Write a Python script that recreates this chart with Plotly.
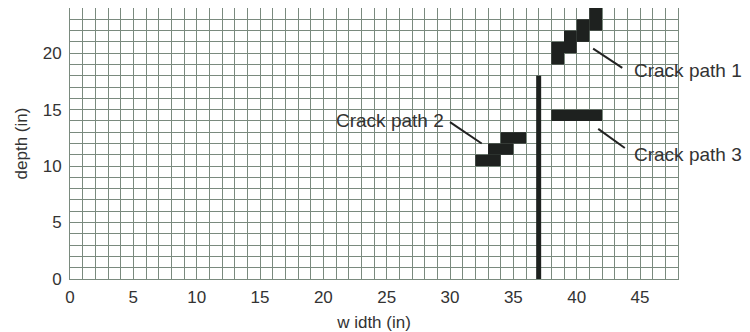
import plotly.graph_objects as go

# ---- data ----
x_ticks = [0, 5, 10, 15, 20, 25, 30, 35, 40, 45]
y_ticks = [0, 5, 10, 15, 20]
x_range = [0, 48]
y_range = [0, 24]

# crack path cells (inches): x0, x1, y0, y1
crack1_x0 = [38, 39, 40, 41]
crack1_x1 = [39, 40, 41, 42]
crack1_y0 = [19, 20, 21, 22]
crack1_y1 = [21, 22, 23, 24]

crack2_x0 = [32, 33, 34]
crack2_x1 = [34, 35, 36]
crack2_y0 = [10, 11, 12]
crack2_y1 = [11, 12, 13]

crack3_x0 = [38]
crack3_x1 = [42]
crack3_y0 = [14]
crack3_y1 = [15]

edge_x = [37, 37]
edge_y = [0, 18]

labels = ["Crack path 1", "Crack path 2", "Crack path 3"]

DARK = "#1e211f"
GRID = "#7a8a7e"
TXT = "#333333"
FONT = "Liberation Sans, Arial, sans-serif"

fig = go.Figure()

# slab edge line
fig.add_trace(go.Scatter(x=edge_x, y=edge_y, mode="lines",
                         line=dict(color=DARK, width=5), hoverinfo="skip",
                         showlegend=False))

shapes = []
for xs0, xs1, ys0, ys1 in [(crack1_x0, crack1_x1, crack1_y0, crack1_y1),
                           (crack2_x0, crack2_x1, crack2_y0, crack2_y1),
                           (crack3_x0, crack3_x1, crack3_y0, crack3_y1)]:
    for a, b, c, d in zip(xs0, xs1, ys0, ys1):
        shapes.append(dict(type="rect", xref="x", yref="y", x0=a, x1=b, y0=c, y1=d,
                           fillcolor=DARK, line=dict(width=0), layer="above"))

# leader lines
leaders = [
    (41.3, 20.4, 43.6, 18.7),
    (30.0, 13.9, 32.5, 12.0),
    (41.7, 13.3, 43.8, 11.6),
]
for x0, y0, x1, y1 in leaders:
    shapes.append(dict(type="line", xref="x", yref="y", x0=x0, y0=y0, x1=x1, y1=y1,
                       line=dict(color="#222222", width=2), layer="above"))

annotations = [
    dict(x=44.4, y=18.5, text=labels[0], xanchor="left"),
    dict(x=29.7, y=14.0, text=labels[1], xanchor="right"),
    dict(x=44.4, y=11.0, text=labels[2], xanchor="left"),
]
for a in annotations:
    a.update(xref="x", yref="y", showarrow=False, yanchor="middle",
             font=dict(size=19, color=TXT, family=FONT))

# page body has an 8px default margin, so the figure is sized to fit it
fig.update_layout(
    width=742, height=324,
    margin=dict(l=62, r=72, t=0, b=53),
    paper_bgcolor="white", plot_bgcolor="white",
    shapes=shapes, annotations=annotations,
    font=dict(family=FONT, color=TXT),
    showlegend=False,
)
fig.update_xaxes(range=x_range, tickvals=x_ticks, ticktext=[str(v) for v in x_ticks],
                 showgrid=True, gridcolor=GRID, gridwidth=1,
                 minor=dict(dtick=1, tick0=0, showgrid=True, gridcolor=GRID, gridwidth=1),
                 zeroline=False, showline=True, linecolor=GRID, linewidth=1, mirror=True,
                 ticks="", tickfont=dict(size=17, color=TXT), automargin=False,
                 ticklabelstandoff=3,
                 title=dict(text="w idth (in)", font=dict(size=17, color=TXT), standoff=12))
fig.update_yaxes(range=y_range, tickvals=y_ticks, ticktext=[str(v) for v in y_ticks],
                 showgrid=True, gridcolor=GRID, gridwidth=1,
                 minor=dict(dtick=1, tick0=0, showgrid=True, gridcolor=GRID, gridwidth=1),
                 zeroline=False, showline=True, linecolor=GRID, linewidth=1, mirror=True,
                 ticks="", tickfont=dict(size=17, color=TXT), ticklabelstandoff=4,
                 automargin=False,
                 title=dict(text="depth (in)", font=dict(size=17, color=TXT), standoff=10))

fig.write_html("out.html")
